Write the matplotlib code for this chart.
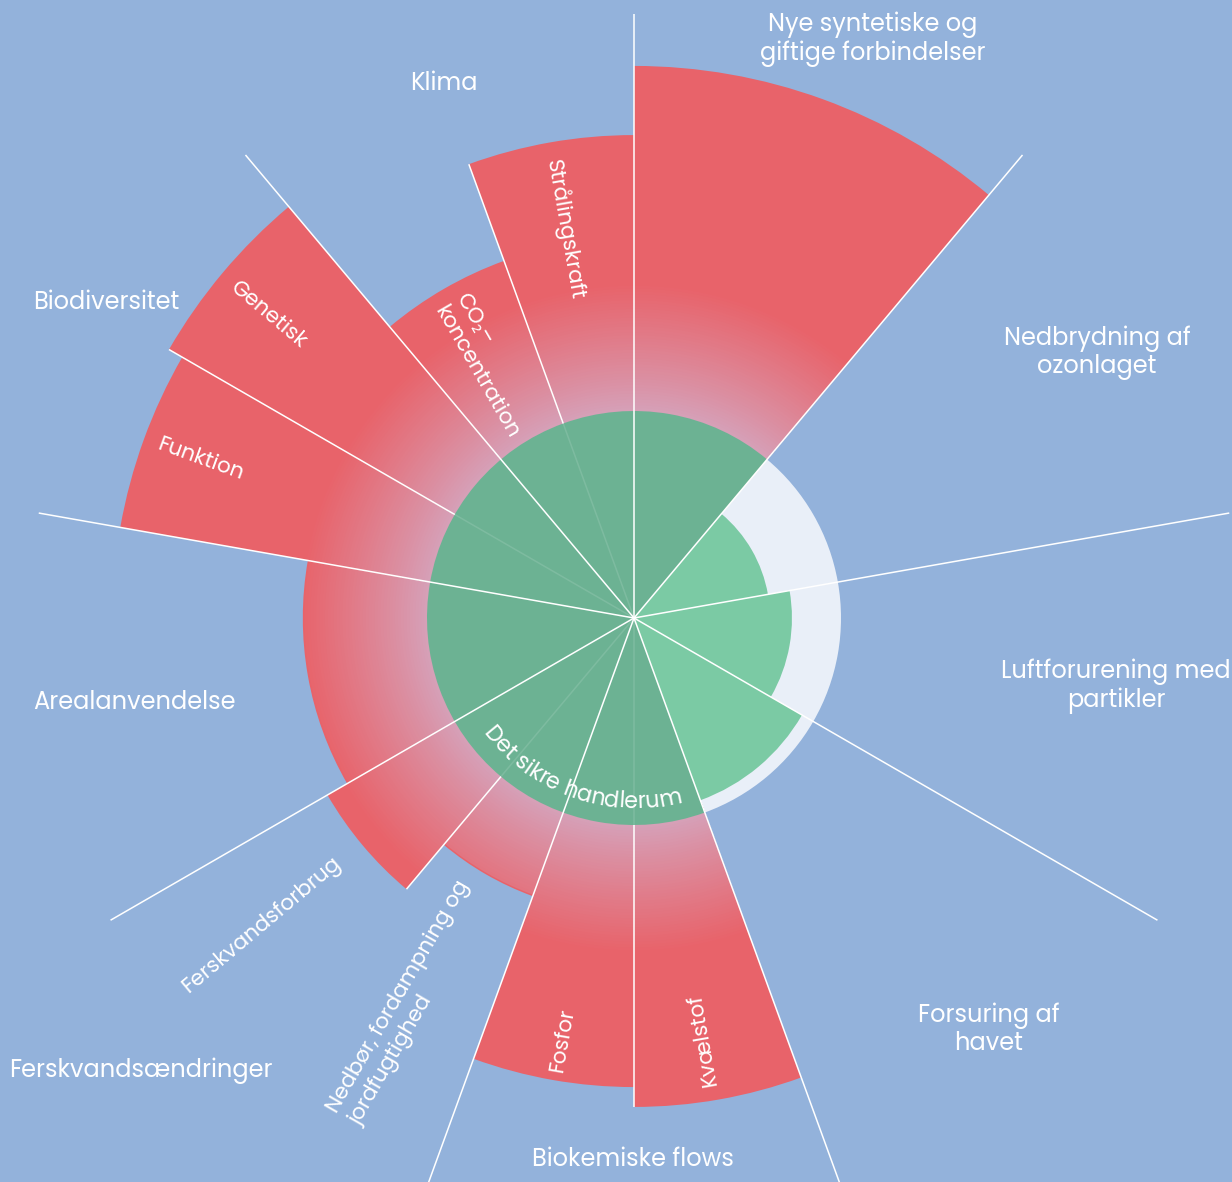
import numpy as np
import matplotlib
matplotlib.use("Agg")
import matplotlib.pyplot as plt
from matplotlib.patches import Wedge
from matplotlib.font_manager import FontProperties

# ---------------- data ----------------
boundary_labels = [
    "Nye syntetiske og\ngiftige forbindelser",
    "Nedbrydning af\nozonlaget",
    "Luftforurening med\npartikler",
    "Forsuring af\nhavet",
    "Biokemiske flows",
    "Ferskvandsændringer",
    "Arealanvendelse",
    "Biodiversitet",
    "Klima",
]
# sub-segments (clockwise order inside each sector)
segment_labels = ["", "", "", "", "Kvælstof", "Fosfor",
                  "Nedbør, fordampning og\njordfugtighed", "Ferskvandsforbrug",
                  "", "Funktion", "Genetisk", "CO₂–\nkoncentration", "Strålingskraft"]
segment_sector = [0, 1, 2, 3, 4, 4, 5, 5, 6, 7, 7, 8, 8]
# values relative to the planetary boundary (1.0 = boundary)
segment_values = [2.667, 0.657, 0.763, 0.937, 2.362, 2.266,
                  1.430, 1.710, 1.600, 2.520, 2.594, 1.836, 2.333]
safe_label = "Det sikre handlerum"

# ---------------- style ----------------
BG = "#93b2db"
RED = np.array([232, 99, 106]) / 255
INNER = np.array([213, 162, 186]) / 255
LIGHT = "#e9eff8"
GREEN_DARK = "#6cb293"
GREEN_LIGHT = "#7bcaa4"
W, H = 1232, 1182
CX, CY = 634, 618
U = 207.0
FONT = ["Poppins", "Open Sans", "DejaVu Sans"]
plt.rcParams["font.family"] = FONT

fig = plt.figure(figsize=(W / 100, H / 100), dpi=100)
fig.patch.set_facecolor(BG)
ax = fig.add_axes([0, 0, 1, 1])
ax.set_facecolor(BG)
ax.set_xlim(-CX / U, (W - CX) / U)
ax.set_ylim(-(H - CY) / U, CY / U)
ax.axis("off")


def px(x, y):
    return (x - CX) / U, (CY - y) / U


n_sectors = len(boundary_labels)
sec_w = 360 / n_sectors
counts = [segment_sector.count(i) for i in range(n_sectors)]
seg_angles = []
pos_in_sector = {}
for s, v in zip(segment_sector, segment_values):
    j = pos_in_sector.get(s, 0)
    pos_in_sector[s] = j + 1
    t_end = 90 - sec_w * s - j * sec_w / counts[s]
    t_start = t_end - sec_w / counts[s]
    seg_angles.append((t_start, t_end))

steps = np.linspace(1.0, 1.62, 45)
for (t1, t2), v in zip(seg_angles, segment_values):
    if v <= 1:
        ax.add_patch(Wedge((0, 0), 1.0, t1, t2, facecolor=LIGHT, edgecolor="none", zorder=1))
        ax.add_patch(Wedge((0, 0), v, t1, t2, facecolor=GREEN_LIGHT, edgecolor="none", zorder=2))
    else:
        ax.add_patch(Wedge((0, 0), v, t1, t2, facecolor=RED, edgecolor="none", zorder=1))
        for r in steps[::-1]:
            if r < v:
                f = (r - 1.0) / (steps[-1] - 1.0)
                c = INNER + (RED - INNER) * f ** 0.9
                ax.add_patch(Wedge((0, 0), r, t1, t2, facecolor=c, edgecolor="none", zorder=1))

# dark green safe circle over exceeded sectors
ax.add_patch(Wedge((0, 0), 1.0, 50, 290, facecolor=GREEN_DARK, edgecolor="none", zorder=3))

# lines
LW = 1.1
for i in range(n_sectors):
    a = np.radians(90 - sec_w * i)
    ax.plot([0, 2.92 * np.cos(a)], [0, 2.92 * np.sin(a)], color="white", lw=LW, zorder=5,
            solid_capstyle="butt")
for s in range(n_sectors):
    idx = [k for k, ss in enumerate(segment_sector) if ss == s]
    for k1, k2 in zip(idx[:-1], idx[1:]):
        a = np.radians(seg_angles[k1][0])
        rmax = max(segment_values[k1], segment_values[k2])
        ax.plot([np.cos(a), rmax * np.cos(a)], [np.sin(a), rmax * np.sin(a)], color="white",
                lw=LW, zorder=5, solid_capstyle="butt")
        ax.plot([0, np.cos(a)], [0, np.sin(a)], color="white", alpha=0.12, lw=LW, zorder=5)

# outer labels
outer_pos = [(873, 39), (1097, 353), (1116, 686), (989, 1030), (633, 1160),
             (141, 1071), (134, 703), (106, 303), (444, 84)]
for lab, (x, y) in zip(boundary_labels, outer_pos):
    ax.text(*px(x, y), lab, color="white", fontsize=17.3, ha="center", va="center",
            linespacing=1.12, zorder=6)

# inner labels (rotated along radial)
inner_pos = {4: (703, 1040), 5: (563, 1040), 6: (410, 1003), 7: (262, 925),
             9: (200, 460), 10: (268, 315), 11: (487, 366), 12: (565, 230)}
for k, lab in enumerate(segment_labels):
    if not lab:
        continue
    t1, t2 = seg_angles[k]
    mid = (t1 + t2) / 2
    rot = mid - 180 if mid > 0 else mid + 180
    x, y = inner_pos[k]
    ax.text(*px(x, y), lab, color="white", fontsize=15.5, ha="center", va="center",
            rotation=rot, rotation_mode="anchor", multialignment="left", linespacing=1.2,
            zorder=6)

# curved text along safe space
renderer = fig.canvas.get_renderer()
fp = FontProperties(family=FONT, size=16)


def tw(s):
    w, h, d = renderer.get_text_width_height_descent(s, fp, ismath=False)
    return w


bar = tw("|")
starts = [tw(safe_label[:i] + "|") - bar if i > 0 else 0 for i in range(len(safe_label))]
advs = [tw(ch + "|") - bar for ch in safe_label]
total = tw(safe_label + "|") - bar
R_TXT = 190.0
rb = R_TXT / U
center_ang = -109
for ch, s0, adv in zip(safe_label, starts, advs):
    if ch == " ":
        continue
    cpx = s0 + adv / 2 - total / 2
    ang = center_ang + np.degrees(cpx / R_TXT)
    a = np.radians(ang)
    ax.text(rb * np.cos(a), rb * np.sin(a), ch, fontproperties=fp, color="white",
            ha="center", va="baseline", rotation=ang + 90, rotation_mode="anchor", zorder=6)

fig.savefig("out.png", dpi=100, facecolor=BG)
